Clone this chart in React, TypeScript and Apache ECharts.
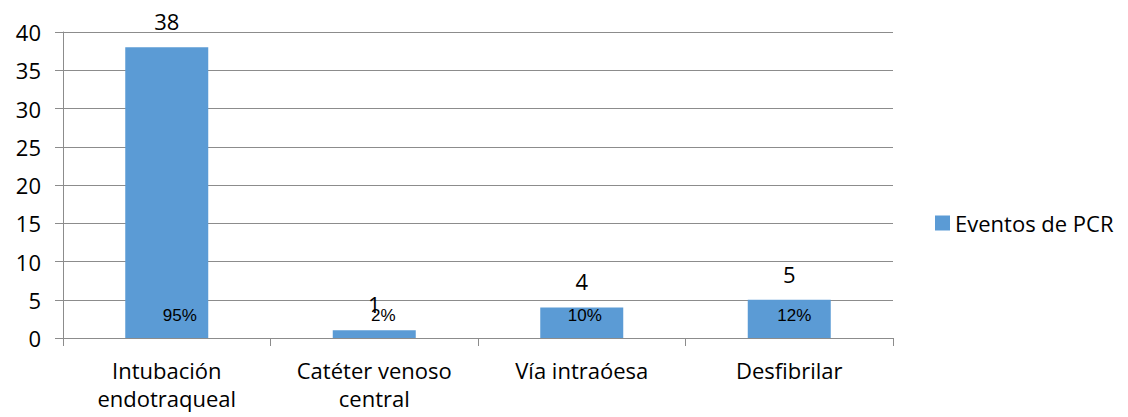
import React, { useEffect, useRef } from "react";
import * as echarts from "echarts";

// Procedimientos realizados durante los eventos de PCR
const categories = [
  "Intubación\nendotraqueal",
  "Catéter venoso\ncentral",
  "Vía intraóesa",
  "Desfibrilar",
];
const eventCounts = [38, 1, 4, 5];
const percentLabels = ["95%", "2%", "10%", "12%"];
const yTicks = { min: 0, max: 40, interval: 5 };
const seriesName = "Eventos de PCR";

// small horizontal nudges for the percentage labels
const pctShift = [13, 9, 3, 5];

const BAR = "#5B9BD5";
const GRID = "#8C8C8C";
const FONT = "'Open Sans', sans-serif";

export default function App() {
  const ref = useRef<HTMLDivElement>(null);

  useEffect(() => {
    if (!ref.current) return;
    const chart = echarts.init(ref.current, null, { renderer: "svg" });
    chart.setOption({
      animation: false,
      backgroundColor: "#ffffff",
      grid: { left: 63, right: 235, top: 32, bottom: 79 },
      legend: {
        data: [seriesName],
        orient: "vertical",
        left: 930,
        top: 207,
        itemWidth: 15,
        itemHeight: 15,
        itemGap: 6,
        icon: "rect",
        textStyle: { fontFamily: FONT, fontSize: 22, color: "#000" },
      },
      xAxis: {
        type: "category",
        data: categories,
        axisLine: { show: true, lineStyle: { color: GRID, width: 1 } },
        axisTick: { show: true, length: 8, lineStyle: { color: GRID } },
        axisLabel: {
          fontFamily: FONT,
          fontSize: 22,
          color: "#000",
          margin: 18,
          lineHeight: 28,
          interval: 0,
        },
      },
      yAxis: {
        type: "value",
        min: yTicks.min,
        max: yTicks.max,
        interval: yTicks.interval,
        axisLine: { show: true, lineStyle: { color: GRID, width: 1 } },
        axisTick: { show: true, length: 8, lineStyle: { color: GRID } },
        splitLine: { show: true, lineStyle: { color: GRID, width: 1 } },
        axisLabel: {
          fontFamily: FONT,
          fontSize: 22,
          color: "#000",
          margin: 22,
        },
      },
      series: [
        {
          name: seriesName,
          type: "bar",
          data: eventCounts,
          barWidth: 83,
          itemStyle: { color: BAR },
          label: {
            show: true,
            position: "top",
            distance: 15,
            fontFamily: FONT,
            fontSize: 22,
            color: "#000",
          },
        },
        {
          name: "porcentaje",
          type: "bar",
          data: eventCounts.map((v, i) => ({
            value: v,
            label: { offset: [pctShift[i], 0] },
          })),
          barWidth: 83,
          barGap: "-100%",
          itemStyle: { color: "rgba(0,0,0,0)" },
          silent: true,
          label: {
            show: true,
            position: "insideBottom",
            distance: 14,
            fontFamily: "'Liberation Sans', Arial, sans-serif",
            fontSize: 17,
            color: "#000",
            formatter: (p: any) => percentLabels[p.dataIndex],
          },
        },
      ],
    });
    return () => chart.dispose();
  }, []);

  return (
    <div
      ref={ref}
      style={{ position: "fixed", left: 0, top: 0, width: 1128, height: 417 }}
    />
  );
}
